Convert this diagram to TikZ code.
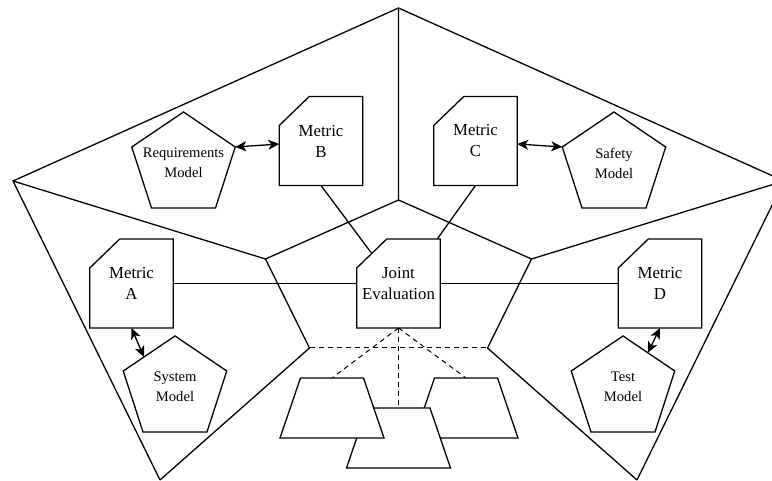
\documentclass[tikz,border=0pt]{standalone}
\usepackage{fontspec}
\setmainfont{Liberation Serif}
\usetikzlibrary{calc,arrows.meta}

% box with the top-left corner cut off; #1 name, #2 centre, #3 text
\newcommand\metricbox[3]{%
  \draw[outline] ($#2+(-41.75,-15.5)$) coordinate (#1-c1)
    -- ($#2+(-11.75,-44.5)$) coordinate (#1-c2)
    -- ($#2+(41.75,-44.5)$) -- ($#2+(41.75,44.5)$)
    -- ($#2+(-41.75,44.5)$) -- cycle;
  \node[boxtext] (#1) at #2 {#3};}

% pentagon model; #1 name, #2 centre of its bounding box, #3 text
\newcommand\modelshape[3]{%
  \draw[outline] ($#2+(0,-48)$) coordinate (#1-t)
    -- ($#2+(51.75,-13)$) coordinate (#1-r)
    -- ($#2+(32,48)$) -- ($#2+(-32,48)$)
    -- ($#2+(-51.75,-13)$) coordinate (#1-l) -- cycle;
  \node[modeltext] (#1) at ($#2+(0,3)$) {#3};}

% trapezoid hanging from a named top-centre coordinate
\newcommand\traypath[1]{%
  \draw[outline] ($(#1)+(-31.5,0)$) -- ($(#1)+(31.5,0)$)
    -- ($(#1)+(52,60)$) -- ($(#1)+(-52,60)$) -- cycle;}

\begin{document}
\begin{tikzpicture}[x=1pt,y=-1pt,
  web/.style={line width=1.3pt},
  dashline/.style={line width=1pt, dash pattern=on 5pt off 4pt},
  outline/.style={draw=black, fill=white, line width=1.3pt},
  boxtext/.style={inner sep=0pt, outer sep=0pt, minimum width=83.5pt,
    minimum height=89pt, align=center, font=\fontsize{16.8}{21}\selectfont},
  modeltext/.style={inner sep=0pt, outer sep=0pt, align=center,
    font=\fontsize{14.6}{20}\selectfont},
  twoway/.style={line width=1.3pt,
    {Stealth[length=11pt,width=10pt,inset=3pt]}-{Stealth[length=11pt,width=10pt,inset=3pt]}},
]
\useasboundingbox (0,0) rectangle (772,481);
\clip (0,0) rectangle (772,481);

% outer and inner pentagon frame
\coordinate (oT) at (398.5,8);
\coordinate (oL) at (13,181);
\coordinate (oR) at (784,181);
\coordinate (oBL) at (160,480);
\coordinate (oBR) at (637,480);
\coordinate (iT) at (398.5,200);
\coordinate (iL) at (265.5,259);
\coordinate (iR) at (531.5,259);
\coordinate (iBL) at (309.5,348);
\coordinate (iBR) at (487.5,348);

\draw[web] (oBL) -- (oL) -- (oT) -- (oR) -- (oBR);
\draw[web] (oT) -- (iT) (oL) -- (iL) (oR) -- (iR) (oBL) -- (iBL) (oBR) -- (iBR);
\draw[web] (iBL) -- (iL) -- (iT) -- (iR) -- (iBR);
\draw[dashline] (iBL) -- (iBR);

% metric boxes and the joint evaluation
\metricbox{mB}{(321,141)}{Metric\\B}
\metricbox{mC}{(475.5,141)}{Metric\\C}
\metricbox{mA}{(131.5,283.5)}{Metric\\A}
\metricbox{mD}{(660,283.5)}{Metric\\D}
\metricbox{je}{(398.5,283.5)}{Joint\\Evaluation}

% models
\modelshape{req}{(183.5,160)}{Requirements\\Model}
\modelshape{saf}{(614,160)}{Safety\\Model}
\modelshape{sys}{(175,384)}{System\\Model}
\modelshape{tst}{(623,384)}{Test\\Model}

% model <-> metric links
\draw[twoway] (req-r) -- ($(mB.west)+(0,3)$);
\draw[twoway] ($(mC.east)+(0,3)$) -- (saf-l);
\draw[twoway] (mA.south) -- ($(sys-t)!0.6!(sys-l)$);
\draw[twoway] (mD.south) -- ($(tst-t)!0.48!(tst-r)$);

% metrics feeding the joint evaluation
\coordinate (jeCut) at ($(je-c1)!0.5!(je-c2)$);
\draw[web] (mB.south) -- (jeCut);
\draw[web] (mC.south) -- ($(je.north east)+(-3,0)$);
\draw[web] (mA.east) -- (je.west);
\draw[web] (je.east) -- (mD.west);

% results below the joint evaluation
\coordinate (trL) at (332,378);
\coordinate (trC) at (398.5,408);
\coordinate (trR) at (466,378);
\draw[dashline] (je.south) -- (trL);
\draw[dashline] (je.south) -- (trC);
\draw[dashline] (je.south) -- (trR);
\traypath{trR}
\traypath{trC}
\traypath{trL}
\end{tikzpicture}
\end{document}
